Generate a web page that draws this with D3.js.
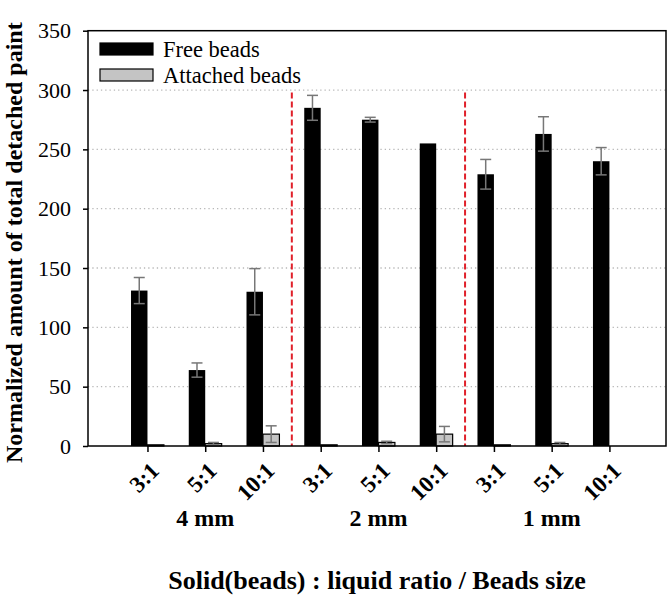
<!DOCTYPE html>
<html>
<head>
<meta charset="utf-8">
<script src="https://cdn.jsdelivr.net/npm/d3@7"></script>
<style>
  body { margin: 0; background: #fff; }
  svg text { font-family: "Liberation Serif", "Times New Roman", serif; }
</style>
</head>
<body>
<svg id="chart" width="669" height="600"></svg>
<script>
// chart data
const categories = ["3:1", "5:1", "10:1", "3:1", "5:1", "10:1", "3:1", "5:1", "10:1"];
const groups = ["4 mm", "2 mm", "1 mm"];
const freeBeads = [131, 64, 130, 285, 275, 255, 229, 263, 240];
const freeErr = [11, 6, 19.5, 10.5, 2, 0, 12.5, 14.5, 11.5];
const attachedBeads = [1, 2, 10, 1, 3, 10, 1, 2, 0];
const attachedErr = [0, 1, 7, 0, 1, 6.5, 0, 1, 0];
const yTicks = [0, 50, 100, 150, 200, 250, 300, 350];
const dividers = [2.5, 5.5];
const dividerTop = 298;

const svg = d3.select("#chart");
const plotL = 88, plotR = 666, plotT = 30.7, plotB = 446;
const serif = "Liberation Serif, Times New Roman, serif";

let x = d3.scaleLinear().domain([-1.03, 8.98]).range([plotL, plotR]);
let y = d3.scaleLinear().domain([0, 350]).range([plotB, plotT]);
let bw = x(0.285) - x(0);

// gridlines
svg.append("g").selectAll("line")
    .data(yTicks.filter(d => d > 0 && d < 350))
    .enter().append("line")
    .attr("x1", plotL).attr("x2", plotR)
    .attr("y1", d => y(d)).attr("y2", d => y(d))
    .attr("stroke", "#b8b8b8")
    .attr("stroke-width", 1.3)
    .attr("stroke-dasharray", "1.3,3");

// bars
let idx = d3.range(categories.length);
svg.append("g").selectAll("rect")
    .data(idx)
    .enter().append("rect")
    .attr("x", i => x(i) - bw)
    .attr("y", i => y(freeBeads[i]))
    .attr("width", bw)
    .attr("height", i => y(0) - y(freeBeads[i]))
    .attr("fill", "#000");

svg.append("g").selectAll("rect")
    .data(idx.filter(i => attachedBeads[i] > 0))
    .enter().append("rect")
    .attr("x", i => x(i))
    .attr("y", i => y(attachedBeads[i]))
    .attr("width", bw)
    .attr("height", i => y(0) - y(attachedBeads[i]))
    .attr("fill", "#c4c4c4")
    .attr("stroke", "#000")
    .attr("stroke-width", 1.2);

// error bars
function errorBars(vals, errs, cx) {
    let g = svg.append("g")
        .attr("stroke", "#777")
        .attr("stroke-width", 1.5);
    let data = idx.filter(i => errs[i] > 0);
    g.selectAll(".stem").data(data).enter().append("line")
        .attr("x1", cx).attr("x2", cx)
        .attr("y1", i => y(vals[i] + errs[i]))
        .attr("y2", i => y(Math.max(0, vals[i] - errs[i])));
    g.selectAll(".capTop").data(data).enter().append("line")
        .attr("x1", i => cx(i) - 5.5).attr("x2", i => cx(i) + 5.5)
        .attr("y1", i => y(vals[i] + errs[i]))
        .attr("y2", i => y(vals[i] + errs[i]));
    g.selectAll(".capBot").data(data).enter().append("line")
        .attr("x1", i => cx(i) - 5.5).attr("x2", i => cx(i) + 5.5)
        .attr("y1", i => y(Math.max(0, vals[i] - errs[i])))
        .attr("y2", i => y(Math.max(0, vals[i] - errs[i])));
}
errorBars(freeBeads, freeErr, i => x(i) - bw / 2);
errorBars(attachedBeads, attachedErr, i => x(i) + bw / 2);

// red dividers
svg.append("g").selectAll("line")
    .data(dividers)
    .enter().append("line")
    .attr("x1", d => x(d)).attr("x2", d => x(d))
    .attr("y1", y(dividerTop)).attr("y2", y(0))
    .attr("stroke", "#e0202a")
    .attr("stroke-width", 2)
    .attr("stroke-dasharray", "6,3");

// frame
svg.append("rect")
    .attr("x", plotL).attr("y", plotT)
    .attr("width", plotR - plotL).attr("height", plotB - plotT)
    .attr("fill", "none")
    .attr("stroke", "#000")
    .attr("stroke-width", 1.5);

// y axis
let yAxis = d3.axisLeft(y).tickValues(yTicks).tickSize(5).tickPadding(12);
let yg = svg.append("g").attr("transform", `translate(${plotL},0)`).call(yAxis);
yg.select(".domain").remove();
yg.selectAll("line").attr("stroke-width", 1.5);
yg.selectAll("text")
    .attr("font-family", serif)
    .attr("font-size", 22)
    .attr("fill", "#000");

// x axis
let xAxis = d3.axisBottom(x).tickValues(idx).tickSize(6).tickFormat("");
let xg = svg.append("g").attr("transform", `translate(0,${plotB})`).call(xAxis);
xg.select(".domain").remove();
xg.selectAll("line").attr("stroke-width", 1.5);

svg.append("g").selectAll("text")
    .data(idx)
    .enter().append("text")
    .attr("transform", i => `translate(${x(i) + 13},${plotB + 26}) rotate(-45)`)
    .attr("text-anchor", "end")
    .attr("font-family", serif)
    .attr("font-size", 23)
    .attr("font-weight", "bold")
    .text(i => categories[i]);

svg.append("g").selectAll("text")
    .data(groups)
    .enter().append("text")
    .attr("x", (d, k) => x(k * 3 + 1))
    .attr("y", 526)
    .attr("text-anchor", "middle")
    .attr("font-family", serif)
    .attr("font-size", 24)
    .attr("font-weight", "bold")
    .text(d => d);

svg.append("text")
    .attr("x", (plotL + plotR) / 2)
    .attr("y", 589)
    .attr("text-anchor", "middle")
    .attr("font-family", serif)
    .attr("font-size", 26)
    .attr("font-weight", "bold")
    .text("Solid(beads) : liquid ratio / Beads size");

svg.append("text")
    .attr("transform", "translate(22,463) rotate(-90)")
    .attr("text-anchor", "start")
    .attr("font-family", serif)
    .attr("font-size", 24)
    .attr("font-weight", "bold")
    .text("Normalized amount of total detached paint");

// legend
let legend = [["Free beads", "#000"], ["Attached beads", "#c4c4c4"]];
let lg = svg.append("g").selectAll("g")
    .data(legend)
    .enter().append("g")
    .attr("transform", (d, k) => `translate(100,${43 + k * 26})`);
lg.append("rect")
    .attr("width", 53).attr("height", 12)
    .attr("fill", d => d[1])
    .attr("stroke", "#000")
    .attr("stroke-width", 1.2);
lg.append("text")
    .attr("x", 63).attr("y", 14)
    .attr("font-family", serif)
    .attr("font-size", 22.5)
    .text(d => d[0]);
</script>
</body>
</html>
